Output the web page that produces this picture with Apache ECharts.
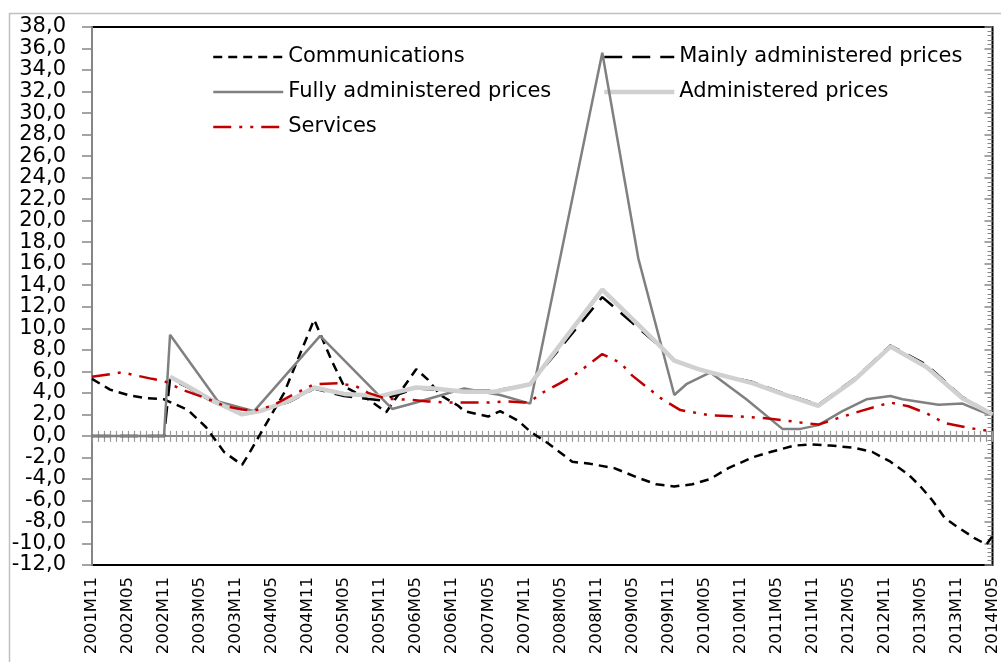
<!DOCTYPE html>
<html>
<head>
<meta charset="utf-8">
<script src="https://cdn.jsdelivr.net/npm/echarts@6/dist/echarts.min.js"></script>
<style>
  html, body { margin: 0; padding: 0; background: #fff; }
  #main-chart { width: 1001px; height: 662px; }
</style>
</head>
<body>
<div id="main-chart"></div>
<script>
// monthly categories 2001M11 .. 2014M05
const startYear = 2001, startMonth = 11, monthCount = 151;
const months = [];
for (let i = 0; i < monthCount; i++) {
    const k = startMonth - 1 + i;
    months.push(`${startYear + Math.floor(k / 12)}M${String(k % 12 + 1).padStart(2, '0')}`);
}

const yTicks = { min: -12, max: 38, step: 2 };

// [month, value] pairs
const communications = [
    ['2001M11', 5.3], ['2002M02', 4.3], ['2002M05', 3.8], ['2002M08', 3.5], ['2002M11', 3.4],
    ['2003M03', 2.4], ['2003M06', 0.8], ['2003M09', -1.5], ['2003M12', -2.7], ['2004M01', -1.8],
    ['2004M07', 4.0], ['2004M12', 10.8], ['2005M03', 6.9], ['2005M05', 4.6], ['2005M09', 3.4],
    ['2005M12', 2.2], ['2006M05', 6.2], ['2006M07', 5.2], ['2006M09', 3.8], ['2006M12', 2.8],
    ['2007M01', 2.3], ['2007M05', 1.8], ['2007M07', 2.3], ['2007M10', 1.4], ['2007M12', 0.4],
    ['2008M03', -0.7], ['2008M07', -2.4], ['2008M10', -2.6], ['2009M02', -3.0], ['2009M06', -3.9],
    ['2009M09', -4.5], ['2009M12', -4.7], ['2010M03', -4.5], ['2010M06', -4.0], ['2010M09', -3.0],
    ['2011M01', -2.0], ['2011M04', -1.5], ['2011M08', -0.9], ['2011M11', -0.8], ['2012M02', -0.9],
    ['2012M06', -1.1], ['2012M09', -1.5], ['2012M12', -2.4], ['2013M03', -3.6], ['2013M05', -4.7],
    ['2013M07', -6.0], ['2013M09', -7.6], ['2013M11', -8.4], ['2014M02', -9.5], ['2014M04', -10.1],
    ['2014M05', -9.3]
];

const mainlyAdministered = [
    ['2001M11', 0], ['2002M11', 0], ['2002M12', 5.3], ['2003M03', 4.5], ['2003M07', 3.2],
    ['2003M12', 2.0], ['2004M03', 2.3], ['2004M08', 3.2], ['2004M12', 4.4], ['2005M05', 3.7],
    ['2005M11', 3.3], ['2006M05', 4.4], ['2006M08', 4.3], ['2007M01', 4.2], ['2007M06', 4.2],
    ['2007M12', 4.8], ['2008M12', 12.9], ['2009M09', 8.6], ['2009M12', 7.0], ['2010M04', 6.2],
    ['2010M06', 5.9], ['2011M01', 5.0], ['2011M06', 4.0], ['2011M12', 2.9], ['2012M06', 5.3],
    ['2012M12', 8.4], ['2013M06', 6.6], ['2013M12', 3.6], ['2014M05', 2.0]
];

const fullyAdministered = [
    ['2001M11', 0], ['2002M11', 0], ['2002M12', 9.4], ['2003M08', 3.2], ['2004M02', 2.3],
    ['2005M01', 9.3], ['2006M01', 2.5], ['2006M05', 3.1], ['2007M01', 4.4], ['2007M07', 3.8],
    ['2007M12', 3.0], ['2008M12', 35.6], ['2009M06', 16.5], ['2009M12', 3.8], ['2010M02', 4.8],
    ['2010M06', 5.9], ['2010M12', 3.4], ['2011M06', 0.65], ['2011M09', 0.65], ['2011M12', 1.0],
    ['2012M04', 2.3], ['2012M08', 3.4], ['2012M12', 3.7], ['2013M02', 3.4], ['2013M08', 2.9],
    ['2013M12', 3.0], ['2014M03', 2.3], ['2014M05', 1.9]
];

const administered = [
    ['2002M12', 5.5], ['2003M03', 4.6], ['2003M07', 3.3], ['2003M12', 2.0], ['2004M03', 2.3],
    ['2004M08', 3.3], ['2004M12', 4.5], ['2005M05', 3.9], ['2005M11', 3.7], ['2006M05', 4.5],
    ['2006M08', 4.4], ['2007M01', 4.1], ['2007M06', 4.1], ['2007M12', 4.8], ['2008M12', 13.6],
    ['2009M09', 8.7], ['2009M12', 7.0], ['2010M04', 6.2], ['2010M06', 5.9], ['2011M01', 4.9],
    ['2011M06', 3.9], ['2011M12', 2.8], ['2012M06', 5.2], ['2012M12', 8.3], ['2013M06', 6.4],
    ['2013M12', 3.5], ['2014M05', 2.0]
];

const services = [
    ['2001M11', 5.5], ['2002M04', 5.9], ['2002M09', 5.3], ['2002M11', 5.1], ['2003M02', 4.3],
    ['2003M06', 3.5], ['2003M09', 2.8], ['2003M12', 2.45], ['2004M02', 2.35], ['2004M05', 2.8],
    ['2004M08', 3.7], ['2004M12', 4.8], ['2005M04', 4.9], ['2005M07', 4.6], ['2005M09', 4.0],
    ['2005M12', 3.45], ['2006M04', 3.35], ['2006M07', 3.2], ['2006M10', 3.1], ['2007M05', 3.1],
    ['2007M08', 3.2], ['2007M11', 3.1], ['2007M12', 3.2], ['2008M02', 4.0], ['2008M05', 4.9],
    ['2008M08', 5.9], ['2008M12', 7.6], ['2009M03', 6.8], ['2009M05', 5.6], ['2009M10', 3.4],
    ['2010M01', 2.4], ['2010M06', 1.9], ['2010M11', 1.8], ['2011M04', 1.6], ['2011M09', 1.25],
    ['2011M12', 1.05], ['2012M03', 1.6], ['2012M07', 2.3], ['2012M12', 3.1], ['2013M03', 2.75],
    ['2013M06', 2.1], ['2013M09', 1.2], ['2014M01', 0.75], ['2014M05', 0.4]
];

const seriesNames = ['Communications', 'Mainly administered prices', 'Fully administered prices', 'Administered prices', 'Services'];

const chart = echarts.init(document.getElementById('main-chart'));
const font = 'DejaVu Sans';
const axisGray = '#868686';

const styles = [
    { color: '#000', width: 2.5, type: [9, 6] },
    { color: '#000', width: 2.5, type: [18, 10] },
    { color: '#808080', width: 2.5, type: 'solid' },
    { color: '#d0d0d0', width: 4.5, type: 'solid' },
    { color: '#c00000', width: 2.5, type: [18, 8, 3, 8, 3, 8] }
];

const zeroAxis = (inside, len) => ({
    type: 'category', data: months, boundaryGap: false, position: 'bottom',
    axisLine: { onZero: true, onZeroAxisIndex: 0, lineStyle: { color: axisGray, width: 2 } },
    axisTick: { show: true, inside: inside, length: len, interval: 0, lineStyle: { color: '#9a9a9a', width: 1.2 } },
    axisLabel: { show: false }, splitLine: { show: false }
});

const lineSeries = (i, data) => ({
    name: seriesNames[i], type: 'line', data, xAxisIndex: 0, yAxisIndex: 0,
    symbol: 'none', smooth: false, z: 3 + i,
    lineStyle: { color: styles[i].color, width: styles[i].width, type: styles[i].type, cap: 'butt' },
    itemStyle: { color: styles[i].color }
});

const legendItem = i => ({
    name: seriesNames[i],
    lineStyle: { color: styles[i].color, width: styles[i].width, type: styles[i].type, cap: 'butt' }
});

const legendBase = {
    top: 40, orient: 'vertical', itemWidth: 70, itemHeight: 14, itemGap: 11,
    itemStyle: { opacity: 0 },
    textStyle: { fontFamily: font, fontSize: 21, color: '#000', lineHeight: 24 }
};

chart.setOption({
    animation: false,
    backgroundColor: '#fff',
    graphic: [{
        type: 'rect', left: 7, top: 11, silent: true, z: -10,
        shape: { width: 1020, height: 700 },
        style: { fill: null, stroke: '#c0c0c0', lineWidth: 1.5 }
    }],
    grid: { left: 92, right: 5, top: 27, bottom: 97, show: true, borderColor: '#000', borderWidth: 2, backgroundColor: 'transparent' },
    legend: [
        Object.assign({ left: 207, data: [0, 2, 4].map(legendItem) }, legendBase),
        Object.assign({ left: 597, data: [1, 3].map(legendItem) }, legendBase)
    ],
    xAxis: [
        zeroAxis(false, 6),
        zeroAxis(true, 5),
        {
            type: 'category', data: months, boundaryGap: false, position: 'bottom',
            axisLine: { show: false, onZero: false }, axisTick: { show: false },
            axisLabel: { interval: 5, rotate: 90, margin: 12, fontFamily: font, fontSize: 16.5, color: '#000' },
            splitLine: { show: false }
        }
    ],
    yAxis: [{
        type: 'value', min: yTicks.min, max: yTicks.max, interval: yTicks.step,
        axisLine: { show: true, lineStyle: { color: axisGray, width: 2 } },
        axisTick: { show: true, length: 10, lineStyle: { color: axisGray, width: 1.5 } },
        axisLabel: {
            margin: 26, fontFamily: font, fontSize: 21, color: '#000',
            formatter: v => v.toFixed(1).replace('.', ',')
        },
        splitLine: { show: false }
    }, {
        type: 'value', min: yTicks.min, max: yTicks.max, interval: yTicks.step,
        axisLine: { show: false },
        axisTick: { show: true, inside: true, length: 8, lineStyle: { color: axisGray, width: 1.5 } },
        minorTick: { show: true, splitNumber: 5, length: 5, lineStyle: { color: axisGray, width: 1 } },
        axisLabel: { show: false }, splitLine: { show: false }
    }],
    series: [
        lineSeries(0, communications),
        lineSeries(1, mainlyAdministered),
        lineSeries(2, fullyAdministered),
        lineSeries(3, administered),
        lineSeries(4, services)
    ]
});
</script>
</body>
</html>
